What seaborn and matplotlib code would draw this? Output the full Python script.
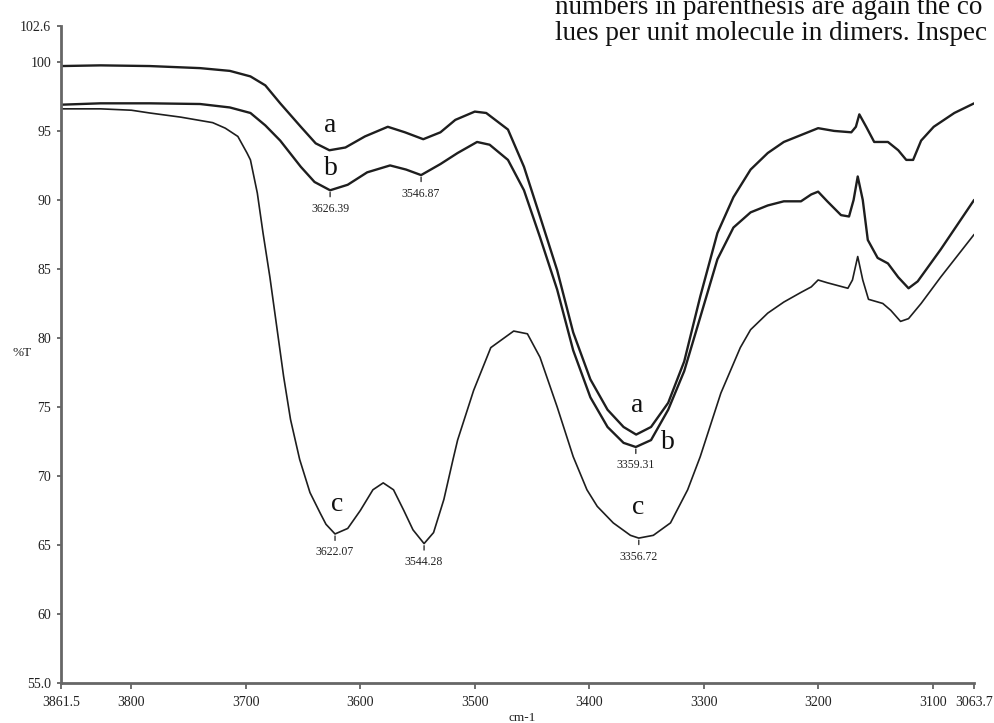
import matplotlib
matplotlib.use('Agg')
import matplotlib.pyplot as plt
import seaborn as sns
import pandas as pd

# 스펙트럼 데이터
wn_a = [3861.5, 3827, 3784, 3740, 3714, 3696, 3683, 3670, 3652, 3639, 3627, 3613, 3596,
        3576, 3561, 3545, 3530, 3517, 3500, 3490, 3471, 3457, 3443, 3428, 3414, 3399,
        3384, 3370, 3359, 3346, 3331, 3317, 3303, 3288, 3274, 3259, 3244, 3230, 3215,
        3200, 3186, 3171, 3167, 3164, 3158, 3151, 3139, 3130, 3123, 3117, 3110, 3099,
        3081, 3063.7]
t_a = [99.7, 99.75, 99.7, 99.55, 99.35, 98.95, 98.3, 97.0, 95.3, 94.1, 93.6, 93.8, 94.6,
       95.3, 94.9, 94.4, 94.9, 95.8, 96.4, 96.3, 95.1, 92.4, 88.8, 84.9, 80.4, 77.0,
       74.8, 73.55, 73.0, 73.55, 75.3, 78.3, 83.0, 87.6, 90.2, 92.2, 93.4, 94.2, 94.7,
       95.2, 95.0, 94.9, 95.3, 96.2, 95.3, 94.2, 94.2, 93.6, 92.9, 92.9, 94.3, 95.3,
       96.3, 97.0]

wn_b = [3861.5, 3827, 3784, 3740, 3714, 3696, 3683, 3670, 3652, 3640, 3626.4, 3611, 3594,
        3574, 3560, 3546.9, 3530, 3515, 3498, 3487, 3471, 3457, 3443, 3428, 3414, 3399,
        3384, 3370, 3359.3, 3346, 3331, 3317, 3303, 3288, 3274, 3259, 3244, 3230, 3215,
        3206, 3200, 3192, 3180, 3173, 3169, 3165.4, 3161, 3156.6, 3148, 3139, 3130, 3121,
        3113, 3093, 3063.7]
t_b = [96.9, 97.0, 97.0, 96.95, 96.7, 96.3, 95.4, 94.3, 92.4, 91.3, 90.7, 91.1, 92.0,
       92.5, 92.2, 91.8, 92.6, 93.4, 94.2, 94.0, 92.9, 90.7, 87.3, 83.5, 79.1, 75.7,
       73.55, 72.4, 72.1, 72.6, 74.8, 77.6, 81.5, 85.7, 88.0, 89.1, 89.6, 89.9, 89.9,
       90.4, 90.6, 89.9, 88.9, 88.8, 90.0, 91.7, 90.0, 87.1, 85.8, 85.4, 84.4, 83.6,
       84.1, 86.4, 90.0]

wn_c = [3861.5, 3827, 3800, 3784, 3757, 3729, 3718, 3707, 3699, 3696, 3690, 3685, 3679,
        3673, 3667, 3661, 3653, 3644, 3635, 3630, 3622.1, 3611, 3600, 3589, 3580, 3571,
        3562, 3554, 3544.3, 3536, 3527, 3519, 3515, 3501, 3486, 3466, 3454, 3443, 3428,
        3414, 3402, 3393, 3379, 3364, 3356.7, 3344, 3329, 3314, 3303, 3285, 3268, 3259,
        3244, 3230, 3215, 3206, 3200, 3192, 3174, 3170, 3165.4, 3161, 3156, 3143.5,
        3136.5, 3128, 3121, 3110, 3093, 3063.7]
t_c = [96.6, 96.6, 96.5, 96.3, 96.0, 95.6, 95.2, 94.6, 93.4, 92.9, 90.5, 87.6, 84.4,
       80.8, 77.2, 74.1, 71.2, 68.8, 67.3, 66.5, 65.8, 66.2, 67.5, 69.0, 69.5, 69.0,
       67.5, 66.1, 65.1, 65.9, 68.3, 71.2, 72.6, 76.2, 79.3, 80.5, 80.3, 78.6, 75.0,
       71.4, 69.0, 67.8, 66.6, 65.7, 65.5, 65.7, 66.6, 69.0, 71.4, 76.0, 79.3, 80.6,
       81.8, 82.6, 83.3, 83.7, 84.2, 84.0, 83.6, 84.2, 85.9, 84.2, 82.8, 82.5,
       82.0, 81.2, 81.4, 82.5, 84.4, 87.5]

# 피크 라벨
peak_labels = ['3626.39', '3546.87', '3359.31', '3622.07', '3544.28', '3356.72']
peak_wn = [3626.4, 3546.9, 3359.3, 3622.1, 3544.3, 3356.7]
peak_t = [90.7, 91.8, 72.1, 65.8, 65.1, 65.5]

# 곡선 이름 라벨 (a, b, c)
curve_letters = ['a', 'b', 'a', 'b', 'c', 'c']
letter_wn = [3626, 3626, 3358, 3331, 3620, 3357]
letter_t = [95.4, 92.3, 75.1, 72.4, 67.9, 67.7]

x_ticks = [3861.5, 3800, 3700, 3600, 3500, 3400, 3300, 3200, 3100, 3063.7]
x_ticklabels = ['3861.5', '3800', '3700', '3600', '3500', '3400', '3300', '3200', '3100', '3063.7']
y_ticks = [55.0, 60, 65, 70, 75, 80, 85, 90, 95, 100, 102.6]
y_ticklabels = ['55.0', '60', '65', '70', '75', '80', '85', '90', '95', '100', '102.6']

df = pd.concat([
    pd.DataFrame({'wn': wn_a, 'T': t_a, 'sample': 'a'}),
    pd.DataFrame({'wn': wn_b, 'T': t_b, 'sample': 'b'}),
    pd.DataFrame({'wn': wn_c, 'T': t_c, 'sample': 'c'}),
])

sns.set_theme(style='white')
plt.rcParams['font.family'] = ['Liberation Serif', 'DejaVu Serif']

fig = plt.figure(figsize=(9.94, 7.23), dpi=100)
ax = fig.add_axes([0.0614, 0.0553, 0.9186, 0.9087])

line_col = '#1e1e1e'
sns.lineplot(data=df, x='wn', y='T', hue='sample', size='sample',
             sizes={'a': 1.7, 'b': 1.7, 'c': 1.2},
             palette={'a': line_col, 'b': line_col, 'c': line_col},
             sort=False, estimator=None, legend=False, ax=ax)

ax.set_xlim(3861.5, 3063.7)
ax.set_ylim(55.0, 102.6)
ax.set_xticks(x_ticks)
ax.set_xticklabels(x_ticklabels)
ax.set_yticks(y_ticks)
ax.set_yticklabels(y_ticklabels)
ax.tick_params(axis='x', direction='out', length=4, width=1.2, color='#555555',
               pad=5, labelsize=10, labelcolor='#222222', bottom=True)
ax.tick_params(axis='y', direction='out', length=3, width=1.2, color='#555555',
               pad=4, labelsize=10, labelcolor='#222222', left=True)

sns.despine(ax=ax)
for side in ['left', 'bottom']:
    ax.spines[side].set_color('#666666')
    ax.spines[side].set_linewidth(2)

ax.set_xlabel('')
ax.set_ylabel('')
fig.text(522 / 994, 1 - 718 / 723, 'cm-1', ha='center', va='center', fontsize=9.5, color='#222222')
fig.text(22 / 994, 1 - 353 / 723, '%T', ha='center', va='center', fontsize=9.5, color='#222222')

for lab, x, y in zip(peak_labels, peak_wn, peak_t):
    ax.annotate(lab, xy=(x, y), xytext=(0, -9), textcoords='offset points',
                ha='center', va='top', fontsize=8.5, color='#222222',
                arrowprops=dict(arrowstyle='-', lw=1, color='#333333', shrinkA=2, shrinkB=1.5))

for lab, x, y in zip(curve_letters, letter_wn, letter_t):
    ax.text(x, y, lab, ha='center', va='center', fontsize=20, color='#111111')

# 상단 오른쪽 본문 텍스트 (스캔 원본에 포함된 부분)
fig.text(555 / 994, 1 - 14 / 723, 'numbers in parenthesis are again the co',
         ha='left', va='baseline', fontsize=19.5, color='#111111')
fig.text(555 / 994, 1 - 40 / 723, 'lues per unit molecule in dimers. Inspec',
         ha='left', va='baseline', fontsize=19.5, color='#111111')

plt.savefig('out.png', dpi=100)
plt.close()
